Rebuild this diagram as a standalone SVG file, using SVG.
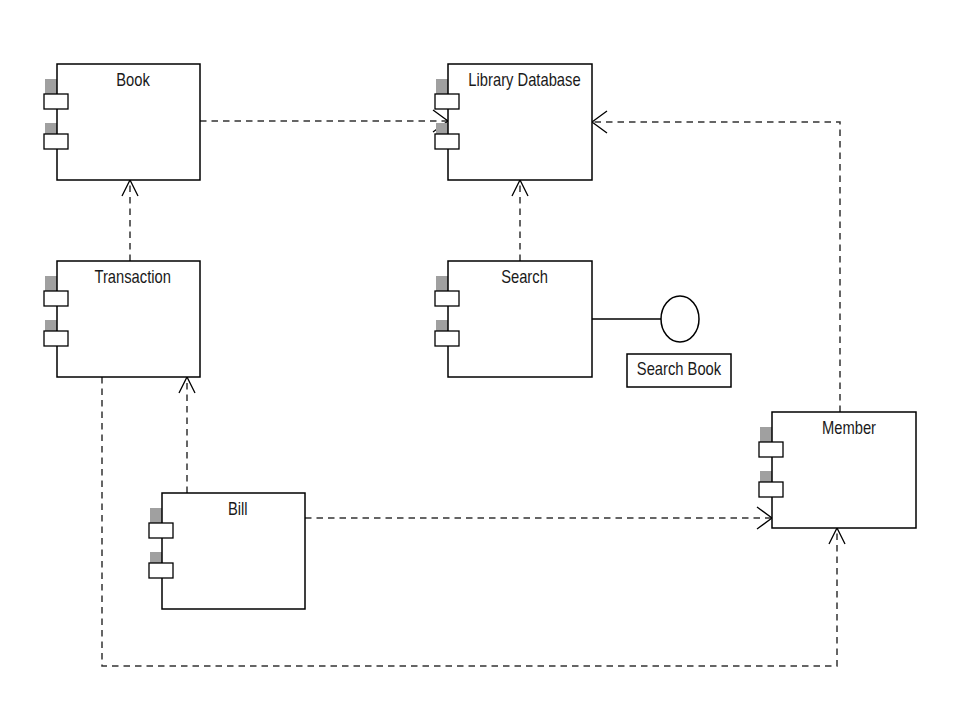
<svg xmlns="http://www.w3.org/2000/svg" width="960" height="720" viewBox="0 0 960 720">
<style>
.box{fill:#fff;stroke:#000;stroke-width:1.5}
.port{fill:#fff;stroke:#000;stroke-width:1.3}
.grey{fill:#a0a0a0}
.lbl{font-family:"Liberation Sans",Arial,sans-serif;font-size:18px;fill:#1a1a1a;text-anchor:middle}
.dep{fill:none;stroke:#333;stroke-width:1.5;stroke-dasharray:6.5,5}
.solid{fill:none;stroke:#000;stroke-width:1.5}
</style>
<defs>
<marker id="arrH" markerUnits="userSpaceOnUse" orient="auto" markerWidth="20" markerHeight="30" viewBox="-17 -13 20 26" refX="0" refY="0" overflow="visible">
<path d="M-15,-11 L0,0 L-15,11" fill="none" stroke="#000" stroke-width="1.3"/>
</marker>
<marker id="arrV" markerUnits="userSpaceOnUse" orient="auto" markerWidth="20" markerHeight="30" viewBox="-17 -13 20 26" refX="0" refY="0" overflow="visible">
<path d="M-16,-8 L0,0 L-16,8" fill="none" stroke="#000" stroke-width="1.3"/>
</marker>
<g id="ports">
<rect class="grey" x="-12" y="15" width="12" height="15"/>
<rect class="grey" x="-12" y="59" width="12" height="11"/>
</g>
</defs>
<rect width="960" height="720" fill="#fff"/>

<g id="connectors">
<path class="dep" d="M200,121 H448" marker-end="url(#arrH)"/>
<path class="dep" d="M840,412 V122 H592" marker-end="url(#arrH)"/>
<path class="dep" d="M520,261 V180" marker-end="url(#arrV)"/>
<path class="dep" d="M130,261 V180" marker-end="url(#arrV)"/>
<path class="dep" d="M187,493 V377" marker-end="url(#arrV)"/>
<path class="dep" d="M305,518 H772" marker-end="url(#arrH)"/>
<path class="dep" d="M102,377 V666 H837 V528" marker-end="url(#arrV)"/>
<path class="solid" d="M592,319 H661"/>
</g>

<g id="book">
<use href="#ports" x="57" y="64"/>
<rect class="box" x="57" y="64" width="143" height="116"/>
<rect class="port" x="44" y="94" width="24" height="15"/>
<rect class="port" x="44" y="134" width="24" height="15"/>
<text class="lbl" transform="translate(133,85.5) scale(0.82,1)">Book</text>
</g>

<g id="library-database">
<use href="#ports" x="448" y="64"/>
<rect class="box" x="448" y="64" width="144" height="116"/>
<rect class="port" x="435" y="94" width="24" height="15"/>
<rect class="port" x="435" y="134" width="24" height="15"/>
<text class="lbl" transform="translate(524.5,85.5) scale(0.82,1)">Library Database</text>
</g>

<g id="transaction">
<use href="#ports" x="57" y="261"/>
<rect class="box" x="57" y="261" width="143" height="116"/>
<rect class="port" x="44" y="291" width="24" height="15"/>
<rect class="port" x="44" y="331" width="24" height="15"/>
<text class="lbl" transform="translate(132.7,282.5) scale(0.82,1)">Transaction</text>
</g>

<g id="search">
<use href="#ports" x="448" y="261"/>
<rect class="box" x="448" y="261" width="144" height="116"/>
<rect class="port" x="435" y="291" width="24" height="15"/>
<rect class="port" x="435" y="331" width="24" height="15"/>
<text class="lbl" transform="translate(524.5,282.5) scale(0.82,1)">Search</text>
</g>

<g id="search-book">
<ellipse cx="680" cy="319" rx="19" ry="23" fill="#fff" stroke="#000" stroke-width="1.5"/>
<rect class="box" x="627" y="354" width="104" height="33"/>
<text class="lbl" transform="translate(679,375) scale(0.82,1)">Search Book</text>
</g>

<g id="member">
<use href="#ports" x="772" y="412"/>
<rect class="box" x="772" y="412" width="144" height="116"/>
<rect class="port" x="759" y="442" width="24" height="15"/>
<rect class="port" x="759" y="482" width="24" height="15"/>
<text class="lbl" transform="translate(849,433.5) scale(0.82,1)">Member</text>
</g>

<g id="bill">
<use href="#ports" x="162" y="493"/>
<rect class="box" x="162" y="493" width="143" height="116"/>
<rect class="port" x="149" y="523" width="24" height="15"/>
<rect class="port" x="149" y="563" width="24" height="15"/>
<text class="lbl" transform="translate(237.7,514.5) scale(0.82,1)">Bill</text>
</g>
</svg>
